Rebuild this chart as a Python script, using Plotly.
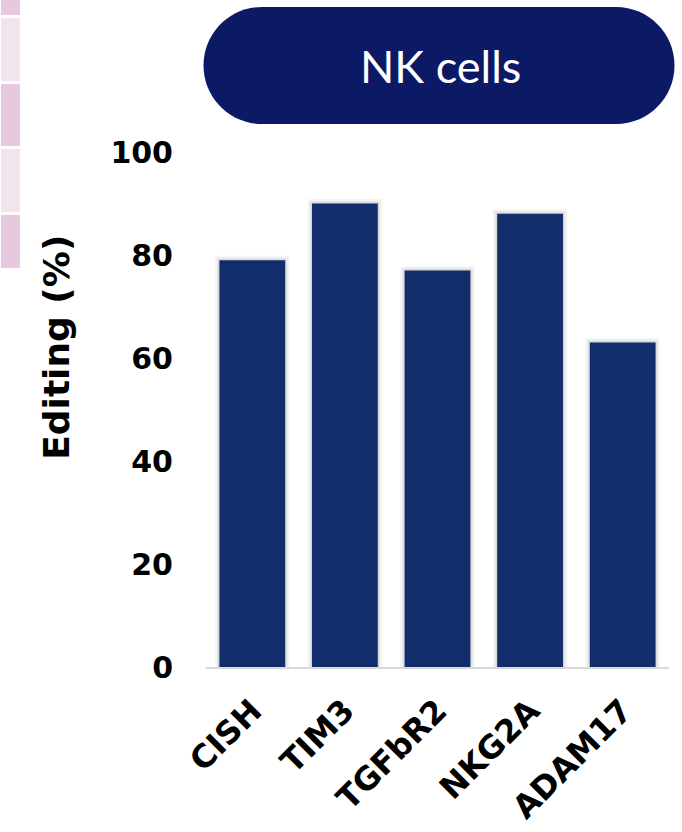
import plotly.graph_objects as go

# Editing efficiency per knocked-out gene in NK cells
genes = ["CISH", "TIM3", "TGFbR2", "NKG2A", "ADAM17"]
editing_pct = [79, 90, 77, 88, 63]
y_ticks = [0, 20, 40, 60, 80, 100]

W_PX, H_PX = 682, 832
M_L, M_R, M_T, M_B = 205.5, 12.5, 152, 165
PW = W_PX - M_L - M_R
PH = H_PX - M_T - M_B

BAR_COLOR = "#112D6B"
PILL_COLOR = "#0C1A66"
BOLD_FONT = "DejaVu Sans"
TITLE_FONT = "Lato"


def px(x):
    return (x - M_L) / PW


def py(y):
    return (M_T + PH - y) / PH


fig = go.Figure()

# soft halo behind bars
for lw, alpha in [(9, 0.04), (5, 0.06), (2, 0.08)]:
    fig.add_trace(go.Bar(
        x=genes, y=editing_pct, width=0.71,
        marker=dict(color="rgba(0,0,0,0)", line=dict(color=f"rgba(0,0,0,{alpha})", width=lw)),
        hoverinfo="skip", showlegend=False,
    ))

fig.add_trace(go.Bar(
    x=genes, y=editing_pct, width=0.71,
    marker=dict(color=BAR_COLOR, line=dict(width=0)),
    showlegend=False,
))

shapes = []

# decorative strip of tinted tiles on the left edge
tiles = [(0, 15, "#E6C9DF"), (18, 81, "#F2E4EF"), (84, 146, "#E6C9DF"),
         (149, 212, "#F2E4EF"), (215, 268, "#E6C9DF")]
for top, bottom, col in tiles:
    shapes.append(dict(type="rect", xref="paper", yref="paper",
                       x0=px(0), x1=px(19), y0=py(bottom), y1=py(top),
                       fillcolor=col, line=dict(width=0), layer="below"))

# rounded pill header
x0, x1, yt, yb = 203, 675, 7, 124
r = (yb - yt) / 2
cy = (yt + yb) / 2
k = 0.5523 * r
pts = [
    ("M", [(x0 + r, yb)]),
    ("L", [(x1 - r, yb)]),
    ("C", [(x1 - r + k, yb), (x1, cy + k), (x1, cy)]),
    ("C", [(x1, cy - k), (x1 - r + k, yt), (x1 - r, yt)]),
    ("L", [(x0 + r, yt)]),
    ("C", [(x0 + r - k, yt), (x0, cy - k), (x0, cy)]),
    ("C", [(x0, cy + k), (x0 + r - k, yb), (x0 + r, yb)]),
]
path = " ".join(cmd + " " + " ".join(f"{px(a):.5f},{py(b):.5f}" for a, b in p) for cmd, p in pts) + " Z"
shapes.append(dict(type="path", xref="paper", yref="paper", path=path,
                   fillcolor=PILL_COLOR, line=dict(width=0)))

fig.update_layout(
    width=W_PX, height=H_PX,
    margin=dict(l=M_L, r=M_R, t=M_T, b=M_B, autoexpand=False),
    paper_bgcolor="white", plot_bgcolor="white",
    barmode="overlay", bargap=0.29,
    shapes=shapes,
    annotations=[
        dict(text="NK cells", xref="paper", yref="paper",
             x=px(441), y=py(66), xanchor="center", yanchor="middle",
             showarrow=False,
             font=dict(family=TITLE_FONT, size=45, color="white")),
        # y-axis title, set higher than the plot's midpoint
        dict(text="Editing (%)", xref="paper", yref="paper",
             x=px(55), y=py(347), xanchor="center", yanchor="middle",
             textangle=-90, showarrow=False,
             font=dict(family=BOLD_FONT, size=36, color="black", weight="bold")),
    ],
    xaxis=dict(
        showline=True, linecolor="#D9D9D9", linewidth=2, layer="below traces",
        showgrid=False, ticks="", tickangle=-45,
        tickfont=dict(family=BOLD_FONT, size=32, color="black", weight="bold"),
        ticklabelstandoff=10,
    ),
    yaxis=dict(
        range=[0, 100], tickvals=y_ticks, showgrid=False, showline=False,
        zeroline=False, ticks="",
        tickfont=dict(family=BOLD_FONT, size=30, color="black", weight="bold"),
        ticklabelstandoff=32,
    ),
)

fig.write_html("out.html")
